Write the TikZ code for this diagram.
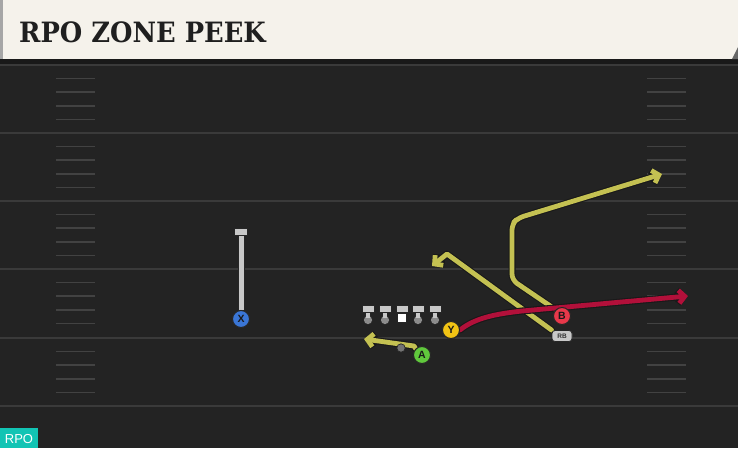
\documentclass[tikz,border=0pt]{standalone}
\usepackage{fontspec}
\usetikzlibrary{arrows.meta}
\newfontfamily\titlefont{DejaVu Serif}[FakeStretch=0.92]
\newfontfamily\lblfont{Liberation Sans}
\definecolor{field}{RGB}{35,35,35}
\definecolor{yard}{RGB}{58,58,58}
\definecolor{hash}{RGB}{66,66,66}
\definecolor{cream}{RGB}{245,242,235}
\definecolor{routey}{RGB}{196,193,82}
\definecolor{router}{RGB}{178,16,58}
\definecolor{xblue}{RGB}{58,118,214}
\definecolor{yyel}{RGB}{242,196,20}
\definecolor{agreen}{RGB}{96,200,60}
\definecolor{bred}{RGB}{232,56,74}
\definecolor{olgrey}{RGB}{200,200,200}
\definecolor{rpoteal}{RGB}{18,196,180}
\tikzset{
  x=1pt,y=-1pt,
  route/.style={line width=4.8pt,line join=round,line cap=round,
    preaction={draw=black!90,line width=7pt,line join=round,line cap=round,
      arrows={-Straight Barb[length=6pt,width=13pt,line width=7pt]}},
    arrows={-Straight Barb[length=6pt,width=13pt,line width=4.8pt]}},
  player/.style={circle,draw=black!85,line width=1pt,minimum size=17pt,inner sep=0pt,
    font=\lblfont\bfseries\fontsize{10.5}{10.5}\selectfont,text=black!90},
  rbtag/.style={draw=black!85,fill=olgrey,rounded corners=3pt,line width=0.8pt,minimum width=20pt,minimum height=11pt,inner sep=0pt,
    font=\lblfont\bfseries\fontsize{6.5}{6.5}\selectfont,text=black!80},
  yardline/.style={draw=yard,line width=2pt},
  hashmark/.style={draw=hash,line width=1.6pt}
}
\begin{document}
\begin{tikzpicture}
\useasboundingbox (0,0) rectangle (738,448);
\fill[field] (0,0) rectangle (738,448);
% yard lines and hashes
\foreach \yy in {65,133,201,269,338,406}{
  \draw[yardline] (0,\yy) -- (738,\yy);
}
\foreach \yy in {65,133,201,269,338}{
  \foreach \k in {1,2,3,4}{
    \draw[hashmark] (56,\yy+13.6*\k) -- (95,\yy+13.6*\k);
    \draw[hashmark] (647,\yy+13.6*\k) -- (686,\yy+13.6*\k);
  }
}
% header
\fill[black!90] (0,58) rectangle (738,64);
\fill[cream] (0,0) rectangle (738,59);
\fill[black!35] (0,0) rectangle (3,59);
\fill[black!60] (738,47) -- (738,59) -- (732,59) -- cycle;
\node[anchor=west,inner sep=0pt,text=black!88,
  font=\titlefont\bfseries\fontsize{28}{28}\selectfont] (title) at (19,32.5) {RPO ZONE PEEK};
% RPO badge
\fill[rpoteal] (0,428) rectangle (38,448);
\node[text=white,font=\lblfont\fontsize{13}{13}\selectfont,inner sep=0pt] (badge) at (19,439) {RPO};
% players
\node[player,fill=xblue] (X) at (241,319) {X};
\node[player,fill=yyel] (Y) at (451,330) {Y};
\node[player,fill=agreen] (A) at (422,355) {A};
\node[player,fill=bred] (B) at (562,316) {B};
\node[rbtag] (RB) at (562,336) {RB};
\coordinate (xtop) at (241,232);
\coordinate (rbturn) at (447,254);
\coordinate (rbend) at (432,266);
\coordinate (bbot) at (512,280);
\coordinate (btop) at (512,224);
\coordinate (bcorner) at (518,218);
\coordinate (bend) at (662,174);
\coordinate (rmid) at (522,311);
\coordinate (rend) at (688,296);
\coordinate (aturn) at (414,346);
\coordinate (aend) at (364,339);
% X route (stem)
\draw[draw=black!85,line width=7pt] (X.north) -- (xtop);
\draw[draw=olgrey,line width=5pt] (X.north) -- (xtop);
\fill[olgrey,draw=black!85,line width=0.9pt] (234.5,228.5) rectangle (247.5,235);
% routes
\draw[route,draw=routey] (RB.north west) -- (rbturn) -- (rbend);
\draw[route,draw=routey,rounded corners=6pt] (B.north west) -- (bbot) -- (btop) -- (bcorner) -- (bend);
\draw[route,draw=routey] (A.north west) -- (aturn) -- (aend);
\draw[route,draw=router] (Y.east) .. controls (475,318) and (495,314) .. (rmid) -- (rend);
% redraw players on top
\node[player,fill=xblue] at (241,319) {X};
\node[player,fill=yyel] at (451,330) {Y};
\node[player,fill=agreen] at (422,355) {A};
\node[player,fill=bred] at (562,316) {B};
\node[rbtag] at (562,336) {RB};
% QB dot
\fill[black!55!white,draw=black!85,line width=0.7pt] (401,348) circle (4.2);
% offensive line
\foreach \xx/\nm in {368/l1,385/l2,418/l4,435/l5}{
  \fill[black!85] (\xx-3.4,309) rectangle (\xx+3.4,319);
  \fill[black!85] (\xx,320) circle (5);
  \fill[black!45!white] (\xx,320) circle (4.1);
  \fill[olgrey] (\xx-2.4,310) rectangle (\xx+2.4,318);
  \fill[olgrey,draw=black!85,line width=0.9pt] (\xx-6,305.5) rectangle (\xx+6,312);
  \coordinate (\nm) at (\xx,312);
}
\fill[black!85] (402-3.4,309) rectangle (402+3.4,314);
\fill[olgrey] (402-2.4,310) rectangle (402+2.4,314);
\fill[olgrey,draw=black!85,line width=0.9pt] (396,305.5) rectangle (408,312);
\fill[white,draw=black!85,line width=0.9pt] (397.5,313.5) rectangle (406.5,322);
\end{tikzpicture}
\end{document}
